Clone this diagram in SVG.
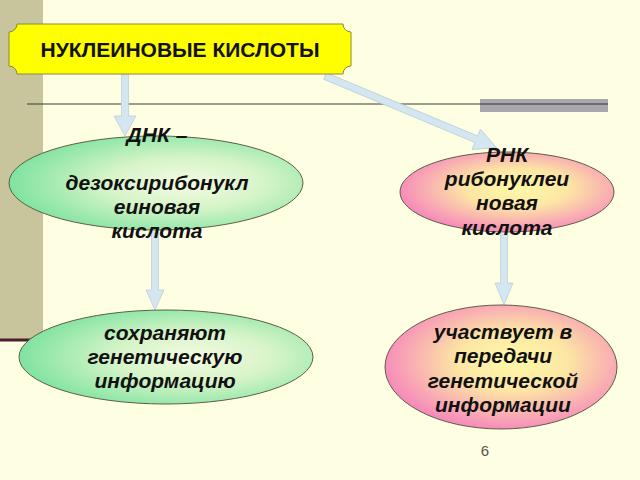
<svg xmlns="http://www.w3.org/2000/svg" width="640" height="480" viewBox="0 0 640 480">
<defs>
<radialGradient id="gGreen" cx="0.6" cy="0.5" r="0.6">
<stop offset="0" stop-color="#F4FBE2"/>
<stop offset="0.45" stop-color="#D6F4C8"/>
<stop offset="1" stop-color="#7FE3A0"/>
</radialGradient>
<radialGradient id="gPink" cx="0.55" cy="0.45" r="0.6">
<stop offset="0" stop-color="#FFFAA8"/>
<stop offset="0.4" stop-color="#FCE6A4"/>
<stop offset="1" stop-color="#F67FBE"/>
</radialGradient>
</defs>
<style>
.ell{stroke:#5E5E46;stroke-width:1}
.t{font-family:"Liberation Sans",Arial,sans-serif;font-weight:bold;font-style:italic;font-size:21px;fill:#111;text-anchor:middle}
.title{font-family:"Liberation Sans",Arial,sans-serif;font-weight:bold;font-size:21px;fill:#111;text-anchor:middle}
.arr{fill:#D4E6EF;stroke:#BCD0DA;stroke-width:0.8}
</style>
<rect x="0" y="0" width="640" height="480" fill="#FEFEE3"/>
<rect x="0" y="0" width="43" height="340" fill="#C8C59C"/>
<line x1="0" y1="340" x2="60" y2="340" stroke="#4A1E2C" stroke-width="3"/>
<line x1="27" y1="104" x2="608" y2="104" stroke="#3A3A3A" stroke-width="1.2"/>
<rect x="480" y="99" width="128" height="13" fill="#A9A6AC"/>
<line x1="480" y1="104" x2="608" y2="104" stroke="#3A2A40" stroke-width="1.2"/>

<g id="connectors">
<polygon class="arr" transform="translate(125,74) rotate(90)" points="0,-3.5 42,-3.5 42,-11 62,0 42,11 42,3.5 0,3.5"/>
<polygon class="arr" transform="translate(325,76) rotate(22.7)" points="0,-3.5 164,-3.5 164,-11 186,0 164,11 164,3.5 0,3.5"/>
<polygon class="arr" transform="translate(155,232) rotate(90)" points="0,-3.5 58,-3.5 58,-9 78,0 58,9 58,3.5 0,3.5"/>
<polygon class="arr" transform="translate(504,234) rotate(90)" points="0,-3.5 49,-3.5 49,-9 71,0 49,9 49,3.5 0,3.5"/>
</g>

<g id="title">
<path d="M17,24 L343,24 A8,8 0 0 0 351,32 L351,66 A8,8 0 0 0 343,74 L17,74 A8,8 0 0 0 9,66 L9,32 A8,8 0 0 0 17,24 Z" fill="#FFFF00" stroke="#8A8A3A" stroke-width="1"/>
<text class="title" x="180" y="57">НУКЛЕИНОВЫЕ КИСЛОТЫ</text>
</g>

<g id="dna">
<ellipse class="ell" cx="156" cy="183" rx="147" ry="47" fill="url(#gGreen)"/>
<text class="t" x="157" y="142">ДНК –</text>
<text class="t" x="157" y="190">дезоксирибонукл</text>
<text class="t" x="157" y="214">еиновая</text>
<text class="t" x="157" y="238">кислота</text>
</g>

<g id="rna">
<ellipse class="ell" cx="507" cy="192" rx="107" ry="40" fill="url(#gPink)"/>
<text class="t" x="507" y="162">РНК</text>
<text class="t" x="507" y="186">рибонуклеи</text>
<text class="t" x="507" y="210">новая</text>
<text class="t" x="507" y="235">кислота</text>
</g>

<g id="store">
<ellipse class="ell" cx="166" cy="357" rx="147" ry="47" fill="url(#gGreen)"/>
<text class="t" x="165" y="340">сохраняют</text>
<text class="t" x="165" y="364">генетическую</text>
<text class="t" x="165" y="388">информацию</text>
</g>

<g id="transfer">
<ellipse class="ell" cx="501" cy="367" rx="116" ry="62" fill="url(#gPink)"/>
<text class="t" x="503" y="339">участвует в</text>
<text class="t" x="503" y="363">передачи</text>
<text class="t" x="503" y="388">генетической</text>
<text class="t" x="503" y="412">информации</text>
</g>

<text x="485" y="456" font-family="Liberation Sans, Arial, sans-serif" font-size="15" fill="#555" text-anchor="middle">6</text>
</svg>
